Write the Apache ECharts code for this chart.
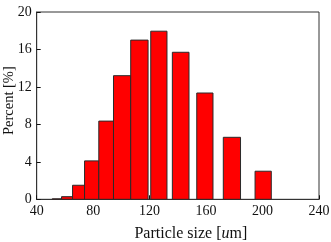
<!DOCTYPE html>
<html>
<head>
<meta charset="utf-8">
<script src="https://cdn.jsdelivr.net/npm/echarts@6/dist/echarts.min.js"></script>
<style>html,body{margin:0;padding:0;background:#fff}#c{width:331px;height:242px}</style>
</head>
<body>
<div id="c"></div>
<script>
// bin edges (particle size, um) and percentages
const binStart = [51, 57.6, 65.4, 73.9, 84.0, 94.4, 106.6, 120.8, 136.1, 153.4, 172.2, 194.7];
const binEnd   = [57.6, 65.4, 73.9, 84.0, 94.4, 106.6, 118.9, 132.3, 147.9, 164.9, 184.4, 206.2];
const percent  = [0.05, 0.28, 1.5, 4.1, 8.35, 13.2, 17.0, 17.95, 15.7, 11.35, 6.62, 3.0];
const xTicks = [40, 80, 120, 160, 200, 240];
const yTicks = [0, 4, 8, 12, 16, 20];

const data = binStart.map((s, i) => [s, binEnd[i], percent[i]]);
const font = '"Liberation Serif", "Times New Roman", Times, serif';
const chart = echarts.init(document.getElementById('c'), null, {renderer: 'canvas'});
chart.setOption({
  animation: false,
  grid: {left: 36.7, right: 12, top: 12, bottom: 42.7, containLabel: false, outerBoundsMode: 'none',
         show: true, borderColor: '#333', borderWidth: 1, backgroundColor: 'transparent'},
  xAxis: {
    type: 'value', min: xTicks[0], max: xTicks[xTicks.length - 1], interval: 40,
    name: '{a|Particle size [}{i|u}{a|m]}', nameLocation: 'middle', nameGap: 26, nameMoveOverlap: false,
    nameTextStyle: {padding: [0, 0, 0, 26], rich: {a: {fontFamily: font, fontSize: 16, color: '#111'}, i: {fontFamily: font, fontSize: 16, fontStyle: 'italic', color: '#111'}}},
    axisLine: {lineStyle: {color: '#333', width: 1}},
    axisTick: {inside: true, length: 4, lineStyle: {color: '#111'}},
    axisLabel: {fontFamily: font, fontSize: 14, color: '#111', margin: 5},
    splitLine: {show: false}
  },
  yAxis: {
    type: 'value', min: yTicks[0], max: yTicks[yTicks.length - 1], interval: 4,
    name: 'Percent [%]', nameLocation: 'middle', nameGap: 20, nameMoveOverlap: false,
    nameTextStyle: {fontFamily: font, fontSize: 14.5, color: '#111', padding: [0, 0, 0, 10]},
    axisLine: {lineStyle: {color: '#333', width: 1}},
    axisTick: {inside: true, length: 4, lineStyle: {color: '#111'}},
    axisLabel: {fontFamily: font, fontSize: 14, color: '#111', margin: 5},
    splitLine: {show: false}
  },
  series: [{
    type: 'custom',
    data: data,
    encode: {x: [0, 1], y: 2},
    renderItem: function (params, api) {
      const p0 = api.coord([api.value(0), api.value(2)]);
      const p1 = api.coord([api.value(1), 0]);
      return {
        type: 'rect',
        shape: {x: p0[0], y: p0[1], width: p1[0] - p0[0], height: p1[1] - p0[1]},
        style: {fill: '#ff0000', stroke: '#2a2a2a', lineWidth: 1}
      };
    }
  }]
});
</script>
</body>
</html>
